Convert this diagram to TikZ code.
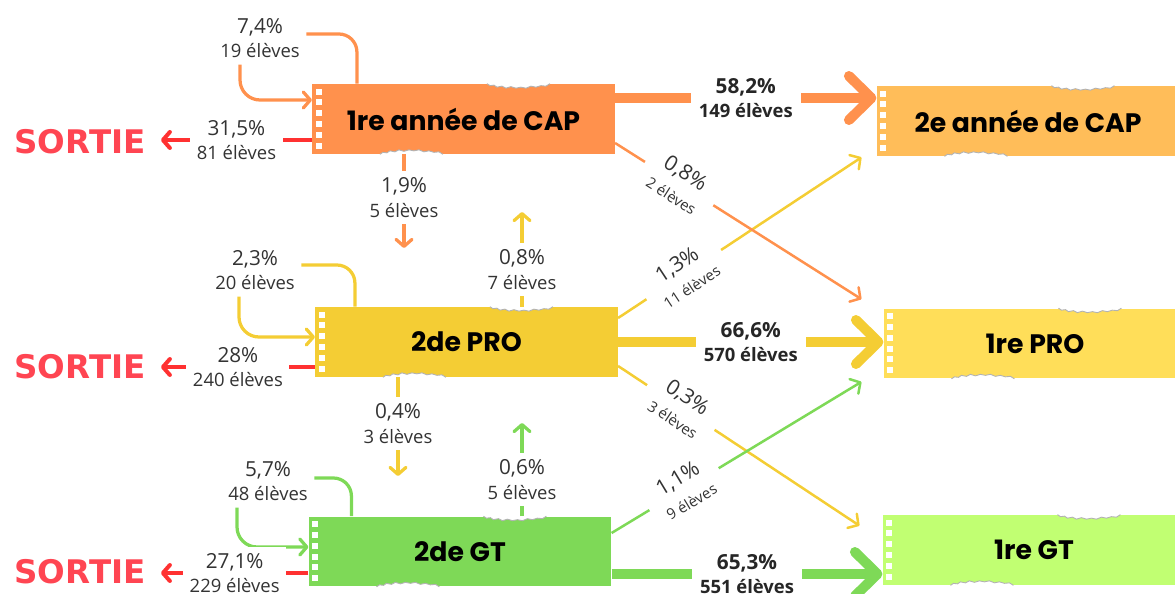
\documentclass[tikz,border=0pt]{standalone}
\usepackage{fontspec}
\setmainfont{Open Sans}
\newfontfamily\titlefont{Poppins}
\newfontfamily\exitfont{DejaVu Sans}
\usetikzlibrary{positioning,arrows.meta,calc}
\definecolor{CapOrange}{HTML}{FF914D}
\definecolor{CapLight}{HTML}{FFBD59}
\definecolor{ProYellow}{HTML}{F4CD34}
\definecolor{ProLight}{HTML}{FFDE59}
\definecolor{GtGreen}{HTML}{7ED957}
\definecolor{GtLight}{HTML}{C1FF72}
\definecolor{ExitRed}{HTML}{FF3131}
\definecolor{ExitText}{HTML}{FF4552}
\definecolor{LabelGrey}{HTML}{333333}
\newcommand\pct[1]{{\fontsize{11.8}{14}\selectfont #1}}
\newcommand\few[1]{{\fontsize{8.5}{10}\selectfont #1}}
\tikzset{
  stagebox/.style={fill=#1,minimum width=6.05cm,minimum height=1.4cm,inner sep=0pt,
    font=\titlefont\bfseries\fontsize{15.2}{17}\selectfont,text=black},
  lbl/.style={fill=white,inner sep=0.13cm,align=center,text=LabelGrey,
    font=\fontsize{10.5}{14}\selectfont},
  boldlbl/.style={lbl,inner xsep=0.16cm,text=black!85,font=\bfseries\fontsize{10.5}{14}\selectfont},
  diaglbl/.style={lbl,sloped,inner xsep=0.25cm,inner ysep=0.04cm,font=\fontsize{12}{14.5}\selectfont},
  sortie/.style={text=ExitText,font=\exitfont\bfseries\fontsize{18.5}{20}\selectfont,inner sep=0.3cm},
  bigflow/.style={-{Straight Barb[length=0.45cm,width=0.88cm,round]},line width=0.2cm,draw=#1},
  flow/.style={-{Straight Barb[length=0.14cm,width=0.32cm,round]},line width=0.065cm,draw=#1},
  thinflow/.style={-{Straight Barb[length=0.15cm,width=0.34cm,round]},line width=0.05cm,draw=#1},
  plainline/.style={line width=0.065cm,draw=#1},
  loopflow/.style={flow=#1,rounded corners=0.4cm},
  loopline/.style={plainline=#1,rounded corners=0.36cm},
  exitflow/.style={flow=ExitRed,line width=0.08cm},
  tearedge/.style={draw=black!30,line width=0.5pt}
}
\newcommand\filmstrip[1]{%
  \foreach \k in {0,...,5}
    \fill[white] ($(#1.north west)+(4,5+\k*10.8)$) rectangle ++(6,6);}
\newcommand\tornedge[3]{%
  \begin{scope}[shift={($(#1)+(#2,0)$)},yscale=#3]
    \fill[white] (0,-1.5) -- (0,0) -- (3,2) -- (7,1.5) -- (10,3.5) -- (15,2.5) -- (19,4.5)
      -- (24,3) -- (29,4.5) -- (34,3.5) -- (39,4.5) -- (44,2.5) -- (49,3.5) -- (54,2)
      -- (59,2.5) -- (63,0) -- (63,-1.5) -- cycle;
    \draw[tearedge] (0,0) -- (3,2) -- (7,1.5) -- (10,3.5) -- (15,2.5) -- (19,4.5)
      -- (24,3) -- (29,4.5) -- (34,3.5) -- (39,4.5) -- (44,2.5) -- (49,3.5) -- (54,2)
      -- (59,2.5) -- (63,0);
  \end{scope}}

\begin{document}
\begin{tikzpicture}[x=0.02cm,y=-0.02cm]
  \useasboundingbox (0,0) rectangle (1175,594);

  \node[stagebox=CapOrange] (cap1) at (463.5,119) {1re année de CAP};
  \node[stagebox=CapLight] (cap2) at (1028,121) {2e année de CAP};
  \node[stagebox=ProYellow] (pro2) at (466.5,342) {2de PRO};
  \node[stagebox=ProLight] (pro1) at (1035,343.5) {1re PRO};
  \node[stagebox=GtGreen] (gt2) at (460,551.5) {2de GT};
  \node[stagebox=GtLight] (gt1) at (1034,550) {1re GT};

  \foreach \b in {cap1,cap2,pro2,pro1,gt2,gt1} {
    \filmstrip{\b}
    \tornedge{\b.north west}{175}{1}
    \tornedge{\b.south west}{68}{-1}
  }

  \node[sortie] (exitcap) at (80,142) {SORTIE};
  \node[sortie] (exitpro) at (80,367) {SORTIE};
  \node[sortie] (exitgt) at (80,572) {SORTIE};

  \node[lbl] (caploop) at (260,38) {\pct{7,4\%}\\19 élèves};
  \node[lbl] (proloop) at (255,270) {\pct{2,3\%}\\20 élèves};
  \node[lbl] (gtloop) at (268,481) {\pct{5,7\%}\\48 élèves};

  \draw[loopline=CapOrange] ([xshift=0.9cm]cap1.north west) |- ([yshift=0.08cm]caploop.east);
  \draw[loopflow=CapOrange] ([xshift=-0.4cm]caploop.south) |- ([yshift=0.38cm]cap1.west);
  \draw[loopline=ProYellow] ([xshift=0.8cm]pro2.north west) |- ([yshift=0.1cm]proloop.east);
  \draw[loopflow=ProYellow] ([xshift=-0.32cm]proloop.south) |- ([yshift=0.1cm]pro2.west);
  \draw[loopline=GtGreen] ([xshift=0.86cm]gt2.north west) |- ([yshift=0.06cm]gtloop.east);
  \draw[loopflow=GtGreen] ([xshift=-0.62cm]gtloop.south) |- ([yshift=0.09cm]gt2.west);

  \draw[exitflow] ([yshift=-0.42cm]cap1.west) -- node[lbl] {\pct{31,5\%}\\81 élèves}
    ([yshift=-0.42cm]cap1.west -| exitcap.east);
  \draw[exitflow] ([yshift=-0.5cm]pro2.west) -- node[lbl] {\pct{28\%}\\240 élèves}
    ([yshift=-0.5cm]pro2.west -| exitpro.east);
  \draw[exitflow] ([yshift=-0.43cm]gt2.west) -- node[lbl] {\pct{27,1\%}\\229 élèves}
    ([yshift=-0.43cm]gt2.west -| exitgt.east);

  \coordinate (capdown) at (404,248);
  \coordinate (proup) at (522,212);
  \coordinate (prodown) at (398,476);
  \coordinate (gtup) at (522,423);
  \draw[flow=CapOrange] (cap1.south -| capdown) -- node[lbl,pos=0.46] {\pct{1,9\%}\\5 élèves} (capdown);
  \draw[flow=ProYellow] (pro2.north -| proup) -- node[lbl,pos=0.39] {\pct{0,8\%}\\7 élèves} (proup);
  \draw[flow=ProYellow] (pro2.south -| prodown) -- node[lbl,pos=0.47] {\pct{0,4\%}\\3 élèves} (prodown);
  \draw[flow=GtGreen] (gt2.north -| gtup) -- node[lbl,pos=0.39] {\pct{0,6\%}\\5 élèves} (gtup);

  \draw[thinflow=ProYellow] ([yshift=0.48cm]pro2.east) -- node[diaglbl,pos=0.27]
    {1,3\%\\\few{11 élèves}} ($(cap2.south west)+(-15,1)$);
  \draw[thinflow=ProYellow] ([yshift=-0.48cm]pro2.east) -- node[diaglbl,pos=0.26]
    {0,3\%\\\few{3 élèves}} ($(gt1.north west)+(-23,11)$);
  \draw[thinflow=GtGreen] ([yshift=0.37cm]gt2.east) -- node[diaglbl,pos=0.29]
    {1,1\%\\\few{9 élèves}} ($(pro1.south west)+(-22,3)$);
  \draw[thinflow=CapOrange] ([yshift=-0.48cm]cap1.east) -- node[diaglbl,pos=0.26]
    {0,8\%\\\few{2 élèves}} ($(pro1.north west)+(-22,-9)$);

  \draw[bigflow=CapOrange] ([yshift=0.42cm]cap1.east) -- node[boldlbl] {\pct{58,2\%}\\149 élèves}
    ([yshift=0.42cm]cap1.east -| cap2.west);
  \draw[bigflow=ProYellow] (pro2.east) -- node[boldlbl] {\pct{66,6\%}\\570 élèves}
    (pro2.east -| pro1.west);
  \draw[bigflow=GtGreen] ([yshift=-0.45cm]gt2.east) -- node[boldlbl] {\pct{65,3\%}\\551 élèves}
    ([yshift=-0.45cm]gt2.east -| gt1.west);
\end{tikzpicture}
\end{document}
